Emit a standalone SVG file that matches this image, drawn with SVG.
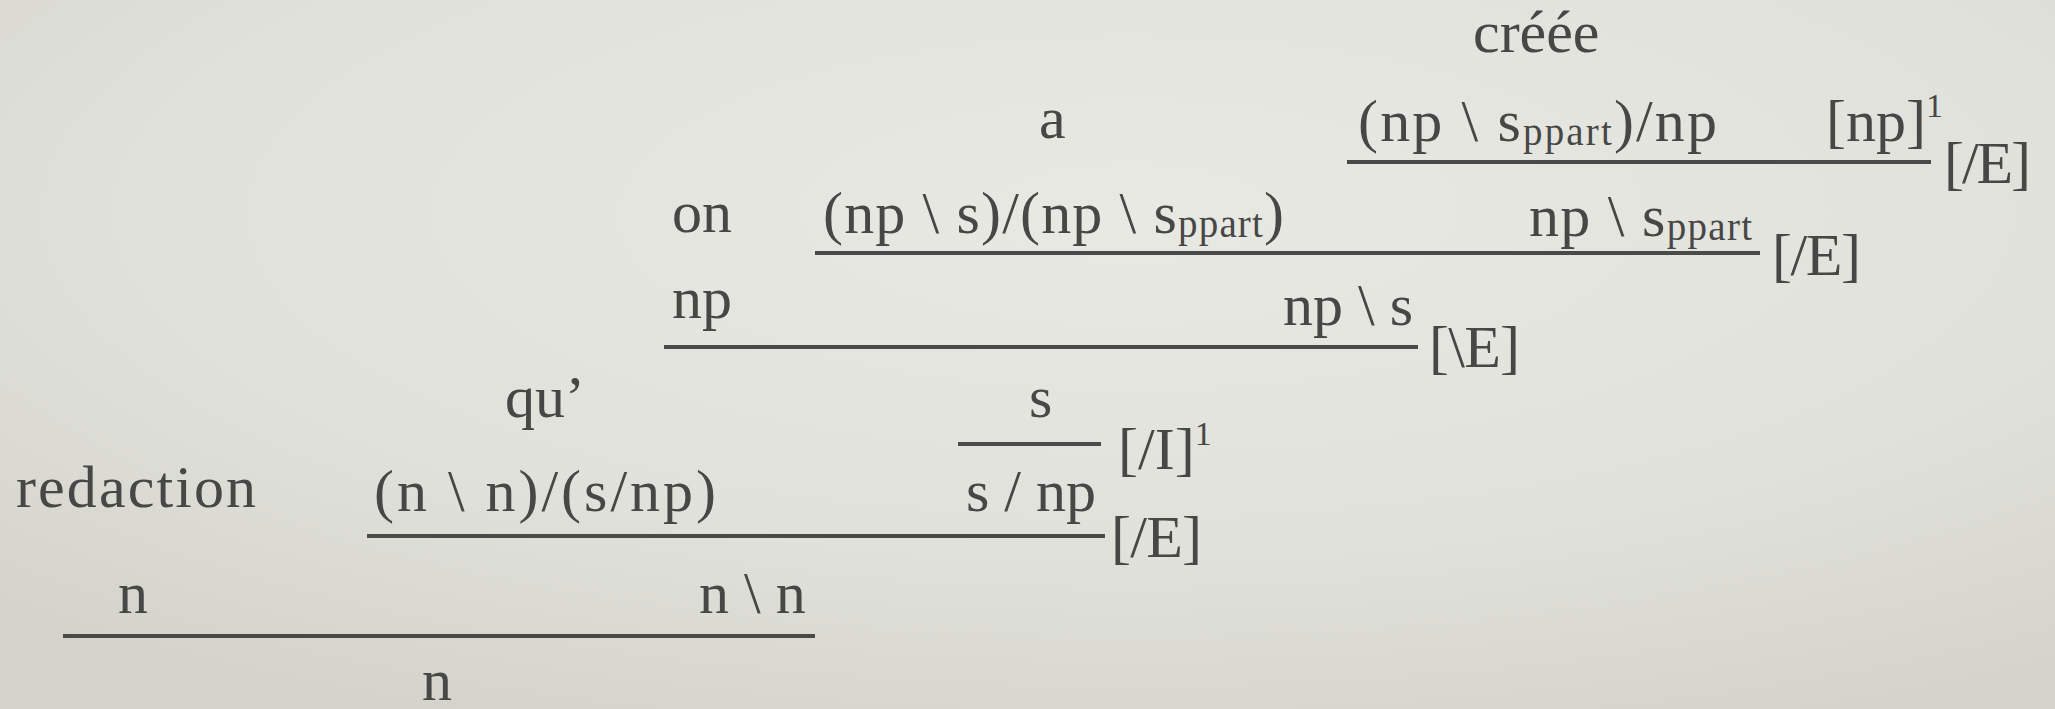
<svg xmlns="http://www.w3.org/2000/svg" width="2055" height="709" viewBox="0 0 2055 709">
  <defs>
    <radialGradient id="bg" cx="0.55" cy="0.3" r="0.8">
      <stop offset="0" stop-color="#e9e9e4"/>
      <stop offset="0.6" stop-color="#e1e1db"/>
      <stop offset="1" stop-color="#d3d3cb"/>
    </radialGradient>
    <style>
      text { font-family: "Liberation Serif", serif; font-size: 60px; fill: #474746; }
      .sub { font-size: 39px; }
      .sup { font-size: 34px; }
      .rule { stroke: #4a4a48; stroke-width: 4; fill: none; }
    </style>
  </defs>
  <rect x="0" y="0" width="2055" height="709" fill="url(#bg)"/>

  <g id="connectors">
    <line class="rule" x1="1347" y1="162" x2="1931" y2="162"/>
    <line class="rule" x1="815" y1="253" x2="1760" y2="253"/>
    <line class="rule" x1="664" y1="347" x2="1418" y2="347"/>
    <line class="rule" x1="958" y1="444" x2="1101" y2="444"/>
    <line class="rule" x1="367" y1="536" x2="1105" y2="536"/>
    <line class="rule" x1="63" y1="636" x2="815" y2="636"/>
  </g>

  <g id="rule-labels">
    <text id="lbl1" x="1944" y="183" textLength="87" lengthAdjust="spacing">[/E]</text>
    <text id="lbl2" x="1772" y="275" textLength="89" lengthAdjust="spacing">[/E]</text>
    <text id="lbl3" x="1429" y="367" textLength="91" lengthAdjust="spacing">[\E]</text>
    <text id="lbl4" x="1118" y="469">[/I]<tspan class="sup" dy="-24">1</tspan></text>
    <text id="lbl5" x="1111" y="557" textLength="91" lengthAdjust="spacing">[/E]</text>
  </g>

  <g id="node-creee"><text x="1473" y="52">créée</text></g>
  <g id="node-a"><text x="1039" y="138">a</text></g>
  <g id="node-creee-type"><text x="1358" y="141" textLength="359" lengthAdjust="spacing">(np \ s<tspan class="sub" dy="4">ppart</tspan><tspan dy="-4">)/np</tspan></text></g>
  <g id="node-np-hyp"><text x="1826" y="141">[np]<tspan class="sup" dy="-24">1</tspan></text></g>

  <g id="node-on"><text x="672" y="232">on</text></g>
  <g id="node-a-type"><text x="823" y="233" textLength="461" lengthAdjust="spacing">(np \ s)/(np \ s<tspan class="sub" dy="4">ppart</tspan><tspan dy="-4">)</tspan></text></g>
  <g id="node-np-sppart"><text x="1529" y="236" textLength="223" lengthAdjust="spacing">np \ s<tspan class="sub" dy="4">ppart</tspan></text></g>

  <g id="node-np"><text x="672" y="318">np</text></g>
  <g id="node-np-s"><text x="1283" y="325">np \ s</text></g>

  <g id="node-qu"><text x="505" y="417">qu’</text></g>
  <g id="node-s"><text x="1029" y="417">s</text></g>

  <g id="node-redaction"><text x="16" y="507" textLength="240" lengthAdjust="spacing">redaction</text></g>
  <g id="node-qu-type"><text x="374" y="511" textLength="342" lengthAdjust="spacing">(n \ n)/(s/np)</text></g>
  <g id="node-s-np"><text x="966" y="511">s / np</text></g>

  <g id="node-n1"><text x="118" y="613">n</text></g>
  <g id="node-n-n"><text x="699" y="613">n \ n</text></g>

  <g id="node-n-result"><text x="422" y="700">n</text></g>
</svg>
